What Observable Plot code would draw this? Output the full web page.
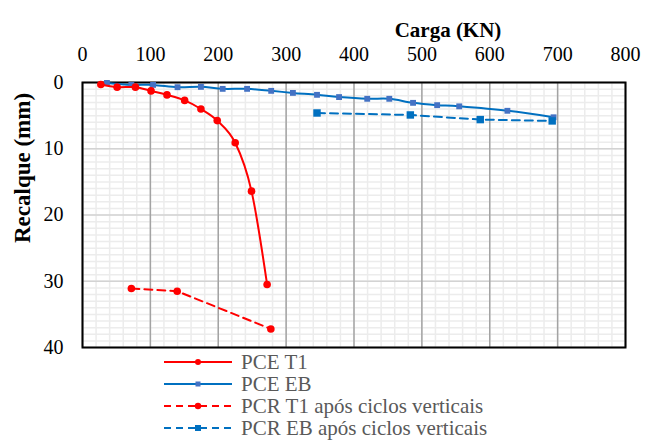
<!DOCTYPE html>
<html>
<head>
<meta charset="utf-8">
<script src="https://cdn.jsdelivr.net/npm/d3@7"></script>
<script src="https://cdn.jsdelivr.net/npm/@observablehq/plot@0.6"></script>
<style>
  body { margin: 0; background: #fff; }
  #wrap { position: relative; width: 647px; height: 441px; }
  #legend { position: absolute; left: 0; top: 0; width: 647px; height: 441px; pointer-events: none; }
  svg text { font-family: 'Liberation Serif', 'Times New Roman', Tinos, 'DejaVu Serif', serif; }
</style>
</head>
<body>
<div id="wrap">
  <div id="chart"></div>
  <svg id="legend" width="647" height="441"></svg>
</div>
<script>
// ---- data ----
const xTicks = [0, 100, 200, 300, 400, 500, 600, 700, 800];
const yTicks = [0, 10, 20, 30, 40];

const pceT1Carga    = [27, 51, 78, 101, 124.5, 150.5, 174.5, 198.5, 225, 249, 272];
const pceT1Recalque = [0.3, 0.7, 0.7, 1.27, 1.87, 2.7, 4.0, 5.75, 9.1, 16.4, 30.5];

const pceEBCarga    = [36, 72, 104, 140, 174.5, 206.5, 242.5, 278, 310, 345.5, 378, 419.5, 452, 487, 522.5, 555, 626, 694];
const pceEBRecalque = [0.06, 0.36, 0.36, 0.71, 0.66, 0.96, 0.96, 1.26, 1.57, 1.86, 2.2, 2.46, 2.46, 3.07, 3.42, 3.6, 4.27, 5.25];

const pcrT1Carga    = [72, 139.5, 277.5];
const pcrT1Recalque = [31.1, 31.5, 37.2];

const pcrEBCarga    = [345.5, 483, 586, 692];
const pcrEBRecalque = [4.6, 4.9, 5.6, 5.8];

const seriesNames = ["PCE T1", "PCE EB", "PCR T1 após ciclos verticais", "PCR EB após ciclos verticais"];

const toRows = (xs, ys) => xs.map((x, i) => ({x, y: ys[i]}));
const pceT1 = toRows(pceT1Carga, pceT1Recalque);
const pceEB = toRows(pceEBCarga, pceEBRecalque);
const pcrT1 = toRows(pcrT1Carga, pcrT1Recalque);
const pcrEB = toRows(pcrEBCarga, pcrEBRecalque);

const RED = "#ff0000", BLUE = "#0070c0", BLUE2 = "#4472c4";
const FONT = "'Liberation Serif', 'Times New Roman', Tinos, 'DejaVu Serif', serif";

const chart = Plot.plot({
  width: 647,
  height: 362,
  marginLeft: 82,
  marginRight: 22,
  marginTop: 82,
  marginBottom: 15,
  style: { fontFamily: FONT, fontSize: "20px", color: "#000", background: "transparent" },
  x: { domain: [0, 800] },
  y: { domain: [0, 40], reverse: true },
  marks: [
    Plot.ruleX(d3.range(0, 801, 20), { stroke: "#ececec", strokeWidth: 1.5 }),
    Plot.ruleY(d3.range(0, 41, 1), { stroke: "#ececec", strokeWidth: 1.5 }),
    Plot.ruleY(yTicks, { stroke: "#d3d3d3", strokeWidth: 1.5 }),
    Plot.ruleX(xTicks, { stroke: "#a3a3a3", strokeWidth: 1.5 }),
    Plot.frame({ stroke: "#000", strokeWidth: 2 }),
    Plot.axisX(xTicks, { anchor: "top", tickSize: 0, tickPadding: 22, label: null, fontSize: 20, fill: "#000" }),
    Plot.axisY(yTicks, { anchor: "left", tickSize: 0, tickPadding: 19, label: null, fontSize: 20, fill: "#000" }),
    Plot.text(["Carga (KN)"], { frameAnchor: "top", dx: 94, dy: -60, fontWeight: "bold", fontSize: 21, fill: "#000" }),
    Plot.text(["Recalque (mm)"], { frameAnchor: "left", dx: -60, dy: 28, rotate: -90, fontWeight: "bold", fontSize: 23, fill: "#000" }),
    Plot.line(pcrT1, { x: "x", y: "y", stroke: RED, strokeWidth: 2, strokeDasharray: "8,5" }),
    Plot.dot(pcrT1, { x: "x", y: "y", fill: RED, r: 3.8 }),
    Plot.line(pcrEB, { x: "x", y: "y", stroke: BLUE, strokeWidth: 2, strokeDasharray: "8,5" }),
    Plot.line(pceEB, { x: "x", y: "y", stroke: BLUE, strokeWidth: 2, curve: "cardinal" }),
    Plot.dot(pceEB, { x: "x", y: "y", symbol: "square", fill: BLUE2, r: 3.3 }),
    Plot.dot(pcrEB, { x: "x", y: "y", symbol: "square", fill: BLUE, r: 4.2 }),
    Plot.line(pceT1, { x: "x", y: "y", stroke: RED, strokeWidth: 2, curve: "cardinal" }),
    Plot.dot(pceT1, { x: "x", y: "y", fill: RED, r: 3.8 })
  ]
});
document.getElementById("chart").appendChild(chart);

// ---- legend ----
const legendItems = [
  { name: seriesNames[0], color: RED,  dash: null,  symbol: "circle", mcolor: RED,   size: 3 },
  { name: seriesNames[1], color: BLUE, dash: null,  symbol: "square", mcolor: BLUE2, size: 5 },
  { name: seriesNames[2], color: RED,  dash: "7,5", symbol: "circle", mcolor: RED,   size: 3.2 },
  { name: seriesNames[3], color: BLUE, dash: "7,5", symbol: "square", mcolor: BLUE,  size: 6 }
];
const rowY = [362, 384, 406, 428];
const lg = d3.select("#legend");
legendItems.forEach((it, i) => {
  const y = rowY[i];
  lg.append("line").attr("x1", 164).attr("x2", 232).attr("y1", y).attr("y2", y)
    .attr("stroke", it.color).attr("stroke-width", 2).attr("stroke-dasharray", it.dash);
  if (it.symbol === "circle") {
    lg.append("circle").attr("cx", 198).attr("cy", y).attr("r", it.size).attr("fill", it.mcolor);
  } else {
    lg.append("rect").attr("x", 198 - it.size / 2).attr("y", y - it.size / 2)
      .attr("width", it.size).attr("height", it.size).attr("fill", it.mcolor);
  }
  lg.append("text").attr("x", 241).attr("y", y).attr("dy", "0.35em")
    .style("font-family", FONT).attr("font-size", 21)
    .attr("fill", "#595959").text(it.name);
});
</script>
</body>
</html>
